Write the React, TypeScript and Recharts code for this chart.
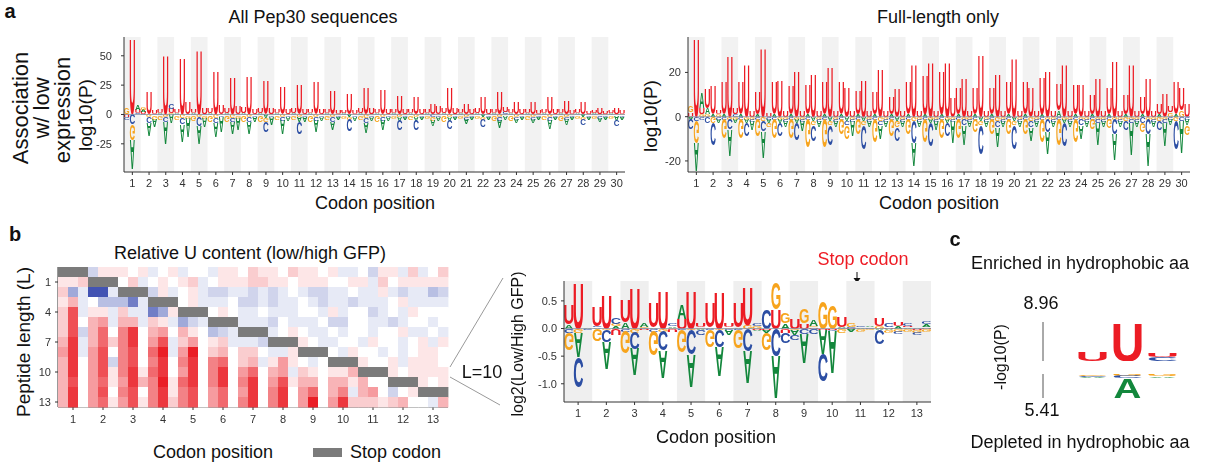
import React from 'react';
import {
  BarChart,
  Bar,
  XAxis,
  YAxis,
  ReferenceArea,
  ReferenceLine,
  ScatterChart,
  Scatter,
} from 'recharts';

const FONT = '"Liberation Sans", Arial, Helvetica, sans-serif';

// ---- panel a, "All Pep30 sequences": log10(P) per nucleotide, 3 per codon ----
// prettier-ignore
const leftU = [
  -2,66,3, 2,19,3, 3,51,4, 3,49,10, 3,55,5, 4,37,8, 4,32,7, 5,33,4, 4,29,5, 3,24,4,
  4,26,4, 3,28,4, 3,20,3, 2,18,3, 4,23,5, 3,21,4, 3,16,4, 3,15,4, 3,9,7, 4,22,5,
  3,9,4, 4,15,4, 3,19,4, 3,10,4, 3,10,3, 3,15,4, 3,11,3, 3,10,2, 2,5,2, 2,5,3,
];
// prettier-ignore
const leftA = [
  0,-26,4, 2,-11,-7, 1,-19,-8, 1,-15,-17, 1,-16,-8, 1,-12,-14, 1,-10,-10, 1,-10,-4, 1,-3,-7, 1,-12,-3,
  1,-4,-4, 1,-10,-3, 1,-7,-2, 1,-2,-3, 1,-9,-3, 1,-9,-3, 1,-3,-2, 1,-3,-2, 1,-5,-3, 1,-3,-2,
  1,-4,-2, 1,-2,-2, 1,-7,-3, 1,-3,-2, 1,-3,-2, 1,-8,-2, 1,-5,-2, 1,-2,-2, 1,-3,-2, 1,-4,-2,
];
// prettier-ignore
const leftG = [
  6,-13,0, 2,-2,-3, -3,-2,1, -3,-3,-2, -4,-2,-2, -5,-3,-1, -6,-3,-2, -6,-2,-1, -6,-3,-1, -3,-2,-1,
  -3,-2,-1, -6,-2,-1, -3,-2,-1, -2,-2,-1, -3,-3,-1, -6,-2,-1, -2,-2,-1, -3,-2,-1, -2,-3,-1, -6,-2,-1,
  -2,-2,-1, -2,-2,-1, -4,-2,-1, -4,-2,-1, -3,-2,-1, -3,-2,-1, -4,-2,-1, -2,-2,-1, -2,-1,-1, -2,-1,-1,
];
// prettier-ignore
const leftC = [
  -2,-9,1, -1,-5,-1, -1,-4,4, -1,-6,-1, -1,-8,-1, -1,-4,-1, -1,-3,-1, -1,-4,-1, -1,-9,-1, -1,-3,-1,
  -1,-10,-1, -1,-3,-1, -1,-4,-1, -1,-10,-1, -1,-4,-1, -1,-3,-1, -1,-9,-1, -1,-9,-1, -1,-2,-1, -1,-8,-1,
  -1,-2,-1, -1,-7,-1, -1,-3,2, -1,-2,-1, -1,-2,-1, -1,-3,-1, -1,-2,-1, -1,-6,-1, -1,-2,-1, -1,-5,-1,
];

// ---- panel a, "Full-length only" ----
// prettier-ignore
const rightU = [
  2,36,3, 9,13,2, 15,28,3, 15,24,3, 10,32,2, 15,17,3, 13,21,3, 14,20,3, 15,23,3, 15,14,3,
  11,17,3, 10,22,3, 8,13,3, 15,24,3, 18,25,3, 20,25,9, 12,18,3, 12,29,3, 12,20,3, 15,27,3,
  15,14,3, 17,21,3, 12,24,3, 14,15,3, 9,18,3, 12,26,3, 9,24,3, 8,18,3, 5,11,3, 15,10,6,
];
// prettier-ignore
const rightA = [
  -1,-13,7, 3,1,-2, 1,-12,-2, 1,-2,-4, 1,-12,-2, 1,-2,-3, 1,-2,-5, 1,-2,-3, 1,-2,-3, 1,-2,-7,
  1,-2,-3, 1,-6,-3, 1,-2,-3, 1,-11,-3, 1,-2,-4, 1,-2,-10, 1,-9,-3, 1,-2,-3, 1,-9,-3, 1,-2,-3,
  1,-6,-3, 1,-10,-3, 3,-2,-3, 1,-6,-3, 1,-10,-3, 1,-12,-3, 1,-15,-3, 1,-15,-3, 1,-11,-3, 1,-15,-3,
];
// prettier-ignore
const rightG = [
  3,-10,1, 1,-3,1, -9,-1,-1, -9,-1,-1, -8,-2,-2, -9,-1,-1, -9,-1,-1, -13,-2,-1, -13,-2,-1, -7,-6,-1,
  -7,-2,-1, -11,-2,-1, -8,-3,-1, -7,-2,-1, -11,-1,-1, -9,-1,-1, -9,-1,-1, -6,-2,-1, -7,-2,-1, -7,-2,-1,
  -7,-2,-1, -11,-1,-1, -12,-1,-1, -11,-1,-1, -5,-1,-1, -4,-1,-1, -2,-1,-1, -4,-1,-1, -2,-1,2, -2,3,-4,
];
// prettier-ignore
const rightC = [
  -5,-2,-1, -3,-10,-1, -1,-5,1, -1,-6,-1, -1,-5,-1, -1,-6,-1, -1,-8,-1, -1,-7,-1, -1,-9,-1, -1,-2,-1,
  -1,-11,-1, -1,-2,-1, -1,-6,-1, -1,-10,-1, -1,-11,-1, -1,-6,-1, -1,-3,-1, -1,-13,-1, -1,-3,-1, -1,-11,-1,
  -1,-3,-1, -1,-6,-1, -1,-11,-1, -1,-3,-1, -1,-2,-1, -1,-7,-1, -4,-2,-1, -3,-7,-1, -4,-2,-1, -13,-2,-1,
];

// ---- panel b, L = 10 logo: log2(low/high GFP) ----
// prettier-ignore
const bU = [
  0.35,0.85,0, 0.35,0.62,-0.12, 0.41,0.75,-0.02, 0.45,0.7,-0.05, 0.18,0.7,0.08, 0.45,0.68,0.06,
  0.45,0.7,-0.02, -0.03,0.35,-0.08, 0.2,0.1,0.02, -0.02,-0.02,0.18, 0.01,0,0, 0.15,0.02,0.06, 0.03,-0.02,0.03,
];
// prettier-ignore
const bA = [
  0.08,-0.45,0.03, 0.02,-0.5,0.04, 0.12,-0.5,0.06, 0.02,-0.5,0.03, 0.25,-0.6,-0.03, 0.03,-0.55,-0.1,
  0.02,-0.6,-0.02, -0.05,-0.8,0.1, -0.1,-0.55,0.12, -0.45,-0.8,0.02, -0.05,0.02,0.03, -0.03,-0.03,0.04, 0.02,0.03,0.05,
];
// prettier-ignore
const bG = [
  -0.3,-0.08,0, -0.22,-0.03,0.05, -0.4,-0.06,0.02, -0.45,-0.05,0.01, -0.4,-0.03,0.02, -0.32,-0.03,0.02,
  -0.33,0.06,0.05, -0.3,0.48,0.2, -0.02,0.25,0.02, 0.5,0.44,-0.08, 0.08,-0.04,-0.03, 0.05,-0.05,-0.04, -0.04,-0.04,-0.05,
];
// prettier-ignore
const bC = [
  -0.08,-0.55,-0.02, 0.03,-0.22,0.12, -0.05,-0.3,0.01, -0.04,-0.35,0.04, -0.02,-0.45,-0.1, -0.02,-0.3,-0.02,
  -0.02,-0.4,0.05, 0.37,-0.5,-0.2, -0.1,-0.1,-0.1, -0.5,-0.03,0.01, 0.01,0.02,0.02, -0.25,0.06,-0.05, 0.05,-0.04,0.05,
];

// ---- panel b heatmap: relative U content, rows L = 0..13, 39 nucleotide columns ----
const S = null; // stop codon
// prettier-ignore
const uContent: (number | null)[][] = [
  [S,S,S, -2,1,1, 1,0,1, -1,0,1, -1,0,0, -1,1,1, 0,2,1, 1,0,2, 1,1,0, 1,-1,-1, 0,-2,1, 1,-1,2, -1,0,2],
  [1,1,2, S,S,S, 0,2,-1, 0,1,0, 1,2,-1, 0,1,1, 1,2,2, 1,1,0, 1,1,1, 0,0,1, 1,-1,2, 0,1,1, 1,1,1],
  [2,-4,-1, -8,-8,-1, S,S,S, -2,1,-1, 0,1,-1, -2,-2,-1, -1,-2,-1, -2,-1,0, -1,-2,-2, -1,-1,0, -1,-1,1, -1,-2,-1, -1,-3,-2],
  [1,3,-1, 0,-3,-3, -3,-6,-1, S,S,S, 0,1,-1, -1,-1,0, -2,-2,-1, -2,-1,-1, 0,-1,-2, -1,-1,-2, -1,-1,-1, 0,1,-1, -1,-1,-1],
  [2,7,-1, 1,1,-1, 2,-1,-1, -6,-4,1, S,S,S, 0,1,0, -1,-1,0, -1,-1,-1, 0,0,-1, 1,-1,0, 0,-2,-1, 0,-1,1, 0,0,0],
  [2,7,0, 3,4,-1, 3,3,-1, 2,1,-1, -4,-2,-1, S,S,S, -1,-1,-1, -2,0,-1, -1,-1,0, -2,-2,0, 0,-1,-1, -2,-1,0, 0,-1,0],
  [2,7,-2, 3,6,0, 5,8,0, 3,4,0, 3,1,0, -3,-2,-1, S,S,S, -1,0,1, 0,-1,-1, 0,-1,0, 0,-1,0, 0,1,-1, -1,0,-1],
  [3,8,-1, 3,6,2, 5,8,0, 4,7,-1, 2,4,0, 1,2,-1, -1,-1,-2, S,S,S, 1,0,-1, -1,0,0, -1,1,0, 0,-1,0, 1,-1,1],
  [4,8,-1, 4,7,0, 5,7,0, 6,9,-1, 4,9,0, 2,3,0, 2,2,0, -1,-1,1, S,S,S, 0,-1,1, 0,0,-1, 0,-1,0, 1,1,0],
  [3,8,0, 4,7,-2, 5,7,0, 5,8,0, 5,8,0, 5,6,0, 2,3,-1, 1,4,1, 0,-1,0, S,S,S, 1,0,0, 1,-1,1, 1,1,0],
  [3,8,0, 4,7,1, 5,8,1, 6,8,0, 4,8,0, 5,8,0, 4,6,0, 3,4,-1, 2,1,0, 1,1,3, S,S,S, 1,0,1, 1,1,1],
  [3,7,0, 4,6,1, 4,8,3, 5,9,1, 6,8,0, 5,8,0, 5,8,0, 4,7,1, 3,3,0, 3,3,1, 3,0,0, S,S,S, 1,0,1],
  [3,8,0, 4,7,0, 5,7,0, 5,8,1, 5,7,0, 4,6,0, 4,8,0, 5,8,0, 4,6,0, 3,5,-1, 3,4,0, -2,0,1, S,S,S],
  [3,8,0, 4,6,1, 4,7,1, 5,8,2, 5,7,0, 4,6,0, 5,8,0, 5,8,0, 4,9,0, 4,8,2, 2,2,1, 2,3,0, 0,-1,3],
];

// ---- panel c: -log10(P) ----
const cPositions = ['1', '2', '3'];
const cTopU = [2.2, 8.96, 1.0];
const cTopC = [0, 0, 0.9];
const cBottomG = [0.35, 0.45, 0.45];
const cBottomC = [0.35, 0.45, 0];
const cBottomA = [0.3, 4.5, 0.35];

const LETTER_COLORS: Record<string, string> = {
  U: '#ec1c24',
  A: '#13873c',
  G: '#f7a41d',
  C: '#2c4ea3',
};
// rough ink width of each glyph at font-size 100 (bold sans)
const INK: Record<string, number> = { U: 58, A: 70, G: 67, C: 63 };

// a letter stretched to fill its bar; flipped for negative values
function Glyph({ x, y, width, height, letter, flip }: any) {
  if (!letter || width == null || height == null) return null;
  const h = Math.abs(height);
  if (h < 0.15 || width <= 0) return null;
  const top = height < 0 ? y + height : y;
  const cx = x + width / 2;
  const sx = width / INK[letter];
  const sy = h / 71.6;
  const t = flip
    ? `translate(${cx} ${top}) scale(${sx} ${-sy})`
    : `translate(${cx} ${top + h}) scale(${sx} ${sy})`;
  return (
    <text
      transform={t}
      textAnchor="middle"
      fontFamily={FONT}
      fontWeight={700}
      fontSize={100}
      fill={LETTER_COLORS[letter]}
    >
      {letter}
    </text>
  );
}

// stack letters per position: smallest next to zero, largest outside
function buildLogo(U: number[], A: number[], G: number[], C: number[]) {
  return U.map((_, i) => {
    const vals: [string, number][] = [
      ['U', U[i]],
      ['A', A[i]],
      ['G', G[i]],
      ['C', C[i]],
    ];
    const pos = vals.filter((v) => v[1] > 0).sort((a, b) => a[1] - b[1]);
    const neg = vals.filter((v) => v[1] < 0).sort((a, b) => b[1] - a[1]);
    const row: any = { pos: i };
    for (let k = 0; k < 4; k++) {
      row['p' + k] = pos[k] ? pos[k][1] : 0;
      row['pl' + k] = pos[k] ? pos[k][0] : null;
      row['n' + k] = neg[k] ? neg[k][1] : 0;
      row['nl' + k] = neg[k] ? neg[k][0] : null;
    }
    return row;
  });
}

const leftData = buildLogo(leftU, leftA, leftG, leftC);
const rightData = buildLogo(rightU, rightA, rightG, rightC);
const bData = buildLogo(bU, bA, bG, bC);

const tickStyle = { fontSize: 11, fill: '#333', fontFamily: FONT };
const axisStroke = { stroke: '#333', strokeWidth: 1 };

function LogoChart({
  data,
  width,
  height,
  margin,
  yWidth,
  xHeight,
  domain,
  yTicks,
  yFmt,
  yTickMargin,
  bandFill,
  gap,
}: any) {
  const nCodon = data.length / 3;
  const mids = Array.from({ length: nCodon }, (_, k) => 3 * k + 1);
  const bands = Array.from({ length: nCodon }, (_, k) => k).filter((k) => k % 2 === 0);
  return (
    <BarChart
      width={width}
      height={height}
      data={data}
      margin={margin}
      stackOffset="sign"
      barCategoryGap={gap}
    >
      {bands.map((k) => (
        <ReferenceArea
          key={k}
          x1={3 * k}
          x2={3 * k + 2}
          fill={bandFill}
          fillOpacity={1}
          stroke="none"
          ifOverflow="extendDomain"
        />
      ))}
      <XAxis
        dataKey="pos"
        type="category"
        ticks={mids}
        interval={0}
        tickFormatter={(v: number) => String((v - 1) / 3 + 1)}
        height={xHeight}
        tick={tickStyle}
        tickLine={axisStroke}
        axisLine={axisStroke}
        tickSize={3}
        tickMargin={4}
      />
      <YAxis
        type="number"
        domain={domain}
        ticks={yTicks}
        allowDataOverflow
        width={yWidth}
        tick={tickStyle}
        tickLine={axisStroke}
        axisLine={axisStroke}
        tickSize={3}
        tickMargin={yTickMargin}
        tickFormatter={yFmt}
      />
      <ReferenceLine y={0} stroke="#8a93a6" strokeWidth={0.8} />
      {[0, 1, 2, 3].map((k) => (
        <Bar
          key={'p' + k}
          dataKey={'p' + k}
          stackId="s"
          isAnimationActive={false}
          shape={(p: any) => <Glyph {...p} letter={p.payload['pl' + k]} flip={false} />}
        />
      ))}
      {[0, 1, 2, 3].map((k) => (
        <Bar
          key={'n' + k}
          dataKey={'n' + k}
          stackId="s"
          isAnimationActive={false}
          shape={(p: any) => <Glyph {...p} letter={p.payload['nl' + k]} flip={true} />}
        />
      ))}
    </BarChart>
  );
}

// heatmap geometry
const HEAT_W = 445;
const HEAT_H = 175;
const HEAT_M = { top: 7, right: 7, bottom: 0, left: 0 };
const HEAT_YW = 48;
const HEAT_XH = 28;
const CELL_W = (HEAT_W - HEAT_M.right - HEAT_YW) / 39;
const CELL_H = (HEAT_H - HEAT_M.top - HEAT_XH) / 14;

function heatColor(v: number | null) {
  if (v === null) return '#7b7b7b';
  const t = Math.min(Math.abs(v) / 9, 1);
  const end = v >= 0 ? [234, 30, 38] : [42, 62, 170];
  const c = end.map((e) => Math.round(255 + (e - 255) * t));
  return `rgb(${c[0]},${c[1]},${c[2]})`;
}

const heatPoints = uContent.flatMap((row, r) =>
  row.map((v, c) => ({ col: c, row: r, v }))
);

function HeatCell(p: any) {
  return (
    <rect
      x={p.cx - CELL_W / 2}
      y={p.cy - CELL_H / 2}
      width={CELL_W + 0.4}
      height={CELL_H + 0.4}
      fill={heatColor(p.payload.v)}
    />
  );
}

function Txt({ x, y, size = 18, rotate = 0, color = '#111', weight = 400, children }: any) {
  return (
    <div
      style={{
        position: 'absolute',
        left: x,
        top: y,
        transform: `translate(-50%, -50%) rotate(${rotate}deg)`,
        fontSize: size,
        fontWeight: weight,
        color,
        whiteSpace: 'nowrap',
        lineHeight: 1,
      }}
    >
      {children}
    </div>
  );
}

const cTop = cPositions.map((pos, i) => ({ pos, U: cTopU[i], C: cTopC[i] }));
const cBottom = cPositions.map((pos, i) => ({
  pos,
  G: cBottomG[i],
  C: cBottomC[i],
  A: cBottomA[i],
}));

// own compositing layer without background -> grayscale antialiasing of the stretched letters
const layer = {
  position: 'absolute' as const,
  willChange: 'transform',
  transform: 'translateZ(0)',
};

export default function App() {
  return (
    <div
      style={{
        position: 'absolute',
        left: 0,
        top: 0,
        width: 1206,
        height: 462,
        background: '#fff',
        fontFamily: FONT,
        overflow: 'hidden',
      }}
    >
      {/* panel a */}
      <Txt x={10} y={11} size={20} weight={700}>a</Txt>
      <Txt x={313} y={17} size={18}>All Pep30 sequences</Txt>
      <Txt x={938} y={17} size={18}>Full-length only</Txt>
      <Txt x={21} y={108} size={22} rotate={-90}>Association</Txt>
      <Txt x={42} y={108} size={22} rotate={-90}>w/ low</Txt>
      <Txt x={63} y={110} size={22} rotate={-90}>expression</Txt>
      <Txt x={85} y={115} size={19} rotate={-90}>log10(P)</Txt>
      <Txt x={650} y={116} size={19} rotate={-90}>log10(P)</Txt>
      <Txt x={375} y={203}>Codon position</Txt>
      <Txt x={939} y={203}>Codon position</Txt>

      <div style={{ ...layer, left: 60, top: 30 }}>
        <LogoChart
          data={leftData}
          width={575}
          height={170}
          margin={{ top: 7, right: 10, bottom: 0, left: 0 }}
          yWidth={64}
          xHeight={28}
          domain={[-49, 66]}
          yTicks={[-25, 0, 25, 50]}
          yTickMargin={9}
          bandFill="#f2f2f2"
          gap="4%"
        />
      </div>
      <div style={{ ...layer, left: 620, top: 30 }}>
        <LogoChart
          data={rightData}
          width={580}
          height={170}
          margin={{ top: 7, right: 10, bottom: 0, left: 0 }}
          yWidth={68}
          xHeight={28}
          domain={[-25, 36]}
          yTicks={[-20, 0, 20]}
          yTickMargin={4}
          bandFill="#f2f2f2"
          gap="4%"
        />
      </div>

      {/* panel b */}
      <Txt x={15} y={234} size={20} weight={700}>b</Txt>
      <Txt x={250} y={253}>Relative U content (low/high GFP)</Txt>
      <Txt x={23} y={342} size={19} rotate={-90}>Peptide length (L)</Txt>
      <div style={{ ...layer, left: 10, top: 260 }}>
        <ScatterChart width={HEAT_W} height={HEAT_H} margin={HEAT_M}>
          <XAxis
            type="number"
            dataKey="col"
            domain={[-0.5, 38.5]}
            ticks={[1, 4, 7, 10, 13, 16, 19, 22, 25, 28, 31, 34, 37]}
            tickFormatter={(v: number) => String((v - 1) / 3 + 1)}
            interval={0}
            height={HEAT_XH}
            tick={tickStyle}
            tickLine={axisStroke}
            axisLine={axisStroke}
            tickSize={3}
            tickMargin={5}
          />
          <YAxis
            type="number"
            dataKey="row"
            domain={[-0.5, 13.5]}
            reversed
            ticks={[1, 4, 7, 10, 13]}
            interval={0}
            width={HEAT_YW}
            tick={tickStyle}
            tickLine={axisStroke}
            axisLine={axisStroke}
            tickSize={3}
            tickMargin={4}
          />
          <Scatter data={heatPoints} isAnimationActive={false} shape={HeatCell} />
        </ScatterChart>
      </div>
      <Txt x={213} y={452}>Codon position</Txt>
      <div
        style={{
          position: 'absolute',
          left: 313,
          top: 448,
          width: 29,
          height: 9,
          background: '#7b7b7b',
        }}
      />
      <div
        style={{
          position: 'absolute',
          left: 350,
          top: 452,
          transform: 'translateY(-50%)',
          fontSize: 18,
          lineHeight: 1,
          color: '#111',
          whiteSpace: 'nowrap',
        }}
      >
        Stop codon
      </div>

      <svg
        width={1206}
        height={462}
        style={{ position: 'absolute', left: 0, top: 0, pointerEvents: 'none' }}
      >
        <line x1={450} y1={367} x2={503} y2={278} stroke="#999" strokeWidth={1} />
        <line x1={450} y1={377} x2={500} y2={405} stroke="#999" strokeWidth={1} />
        <line x1={857} y1={272} x2={857} y2={281} stroke="#111" strokeWidth={1} />
        <path d="M853.5,278 L857,283 L860.5,278 Z" fill="#111" />
      </svg>
      <Txt x={482} y={372}>L=10</Txt>

      <Txt x={518} y={344} size={16} rotate={-90}>log2(Low/High GFP)</Txt>
      <Txt x={863} y={259} color="#ee1c25">Stop codon</Txt>
      <div style={{ ...layer, left: 500, top: 272 }}>
        <LogoChart
          data={bData}
          width={440}
          height={160}
          margin={{ top: 9, right: 9, bottom: 0, left: 0 }}
          yWidth={64}
          xHeight={30}
          domain={[-1.33, 0.86]}
          yTicks={[-1, -0.5, 0, 0.5]}
          yFmt={(v: number) => v.toFixed(1)}
          yTickMargin={4}
          bandFill="#efefef"
          gap="4%"
        />
      </div>
      <Txt x={716} y={437}>Codon position</Txt>

      {/* panel c */}
      <Txt x={955} y={239} size={20} weight={700}>c</Txt>
      <Txt x={1080} y={263}>Enriched in hydrophobic aa</Txt>
      <Txt x={1041} y={303}>8.96</Txt>
      <Txt x={1042} y={410}>5.41</Txt>
      <Txt x={1001} y={357} size={16} rotate={-90}>-log10(P)</Txt>
      <Txt x={1080} y={442}>Depleted in hydrophobic aa</Txt>
      <div style={{ ...layer, left: 1000, top: 322 }}>
        <BarChart
          width={185}
          height={39}
          data={cTop}
          margin={{ top: 0, right: 0, bottom: 0, left: 0 }}
          barSize={27}
        >
          <XAxis dataKey="pos" hide padding={{ left: 32, right: 5 }} />
          <YAxis
            domain={[0, 8.96]}
            width={43}
            tick={false}
            tickLine={false}
            axisLine={{ stroke: '#555' }}
          />
          <Bar
            dataKey="C"
            stackId="t"
            isAnimationActive={false}
            shape={(p: any) => <Glyph {...p} letter="C" />}
          />
          <Bar
            dataKey="U"
            stackId="t"
            isAnimationActive={false}
            shape={(p: any) => <Glyph {...p} letter="U" />}
          />
        </BarChart>
      </div>
      <div style={{ ...layer, left: 1000, top: 374 }}>
        <BarChart
          width={185}
          height={24}
          data={cBottom}
          margin={{ top: 0, right: 0, bottom: 0, left: 0 }}
          barSize={27}
        >
          <XAxis dataKey="pos" hide padding={{ left: 32, right: 5 }} />
          <YAxis
            domain={[0, 5.41]}
            reversed
            width={43}
            tick={false}
            tickLine={false}
            axisLine={{ stroke: '#555' }}
          />
          <Bar
            dataKey="G"
            stackId="b"
            isAnimationActive={false}
            shape={(p: any) => <Glyph {...p} letter="G" />}
          />
          <Bar
            dataKey="C"
            stackId="b"
            isAnimationActive={false}
            shape={(p: any) => <Glyph {...p} letter="C" />}
          />
          <Bar
            dataKey="A"
            stackId="b"
            isAnimationActive={false}
            shape={(p: any) => <Glyph {...p} letter="A" />}
          />
        </BarChart>
      </div>
    </div>
  );
}
